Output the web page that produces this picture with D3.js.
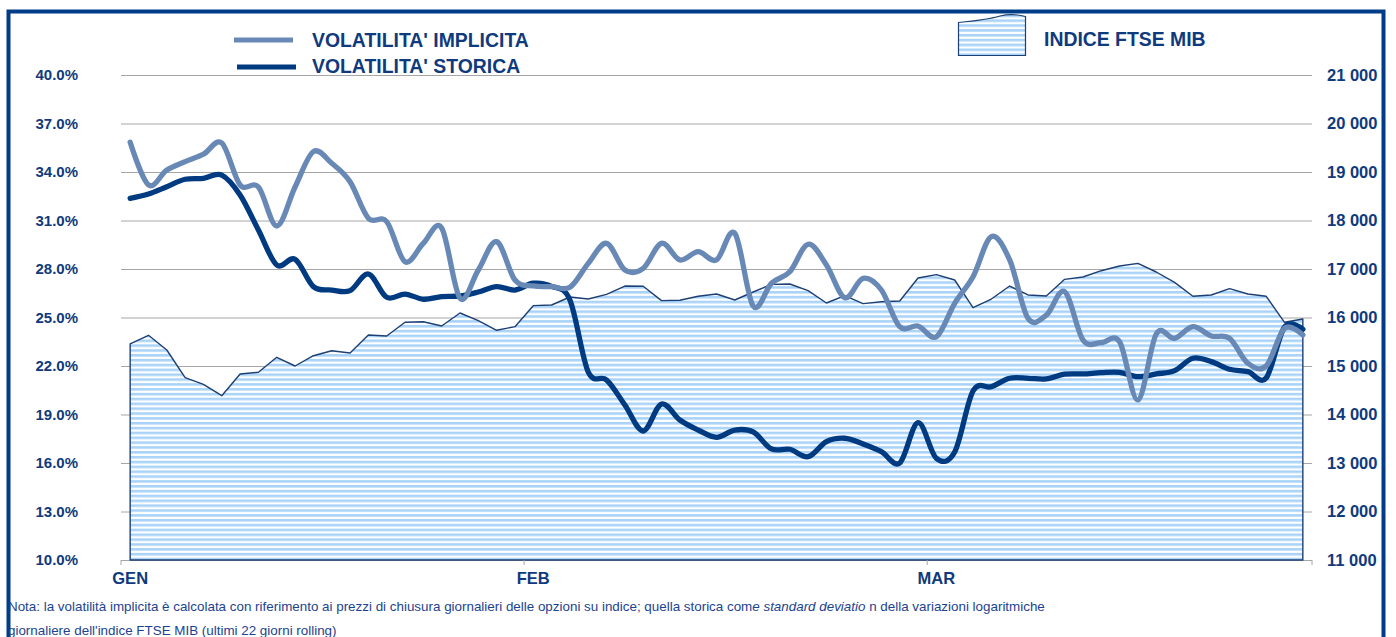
<!DOCTYPE html>
<html>
<head>
<meta charset="utf-8">
<script src="https://cdnjs.cloudflare.com/ajax/libs/d3/7.8.5/d3.min.js"></script>
<style>
  html, body { margin: 0; padding: 0; background: #fff; }
  svg { display: block; font-family: "Liberation Sans", Arial, sans-serif; }
</style>
</head>
<body>
<svg id="chart" width="1396" height="637"></svg>
<script>
'use strict';

// month labels on the category axis (index of the first day of each month)
var months = ['GEN', 'FEB', 'MAR'];
var monthStart = [0, 22, 44];

// tick labels
var volTicks = [10, 13, 16, 19, 22, 25, 28, 31, 34, 37, 40];
var ftseTicks = [11000, 12000, 13000, 14000, 15000, 16000, 17000, 18000, 19000, 20000, 21000];

// implied volatility (%), daily
var volImplicita = [35.84, 33.20, 34.12, 34.64, 35.10, 35.79, 33.20, 33.07, 30.66, 33.07,
  35.26, 34.54, 33.40, 31.14, 30.93, 28.45, 29.59, 30.54, 26.19, 27.94,
  29.69, 27.32, 26.95, 26.91, 26.87, 28.35, 29.59, 27.94, 28.04, 29.59,
  28.56, 29.07, 28.56, 30.21, 25.71, 27.12, 27.83, 29.53, 28.25, 26.22,
  27.42, 26.70, 24.43, 24.47, 23.81, 25.88, 27.52, 30.00, 28.56, 24.95,
  25.15, 26.60, 23.61, 23.44, 23.50, 19.90, 23.98, 23.71, 24.43, 23.86,
  23.71, 22.17, 22.00, 24.33, 23.92];

// historical volatility (%), daily
var volStorica = [32.37, 32.64, 33.09, 33.55, 33.61, 33.81, 32.58, 30.41, 28.25, 28.60,
  26.91, 26.70, 26.66, 27.69, 26.25, 26.45, 26.13, 26.29, 26.33, 26.58,
  26.91, 26.70, 27.12, 26.93, 26.08, 21.63, 21.13, 19.59, 17.98, 19.65,
  18.66, 18.04, 17.59, 18.04, 17.92, 16.87, 16.85, 16.39, 17.32, 17.53,
  17.18, 16.70, 16.00, 18.49, 16.29, 16.68, 20.45, 20.72, 21.24, 21.24,
  21.20, 21.49, 21.51, 21.59, 21.61, 21.34, 21.51, 21.71, 22.48, 22.27,
  21.80, 21.65, 21.26, 24.41, 24.27];

// FTSE MIB index level, daily
var ftseMib = [15454, 15633, 15330, 14759, 14623, 14388, 14835, 14870, 15179, 15000,
  15212, 15315, 15268, 15639, 15619, 15901, 15913, 15825, 16093, 15934,
  15736, 15811, 16244, 16258, 16423, 16381, 16478, 16649, 16643, 16347,
  16355, 16437, 16485, 16361, 16526, 16684, 16691, 16553, 16299, 16450,
  16285, 16326, 16340, 16814, 16883, 16773, 16203, 16381, 16649, 16464,
  16443, 16787, 16835, 16965, 17062, 17117, 16938, 16725, 16437, 16464,
  16594, 16485, 16437, 15901, 15969];

var colImplicita = '#6889b6';
var colStorica = '#003a80';
var colText = '#0f3a7d';
var colFrame = '#003c87';

var svg = d3.select('#chart');

//Frame round the whole chart
svg.append('rect')
  .attr('x', 8.5).attr('y', 11.5)
  .attr('width', 1375).attr('height', 660)
  .attr('fill', 'none')
  .attr('stroke', colFrame)
  .attr('stroke-width', 4);

//Scales
var x = d3.scaleBand().domain(d3.range(ftseMib.length)).range([121, 1312]);
var px = function(i){ return x(i) + x.bandwidth() / 2; };
var yL = d3.scaleLinear().domain([10, 40]).range([560, 75]);
var yR = d3.scaleLinear().domain([11000, 21000]).range([560, 75]);

//Striped fill for the index area
var defs = svg.append('defs');
var pat = defs.append('pattern')
  .attr('id', 'stripes')
  .attr('patternUnits', 'userSpaceOnUse')
  .attr('width', 8).attr('height', 4.85);
pat.append('rect').attr('width', 8).attr('height', 4.85).attr('fill', '#ffffff');
pat.append('rect').attr('y', 0).attr('width', 8).attr('height', 2.6).attr('fill', '#a9d3f8');

//Gridlines
svg.append('g').selectAll('line')
  .data(volTicks)
  .enter().append('line')
  .attr('x1', 121).attr('x2', 1312)
  .attr('y1', function(d){ return yL(d) + 0.5; })
  .attr('y2', function(d){ return yL(d) + 0.5; })
  .attr('stroke', '#a6a6a6')
  .attr('stroke-width', 1);

//FTSE MIB area (right axis)
var area = d3.area()
  .x(function(d, i){ return px(i); })
  .y0(yR(11000))
  .y1(function(d){ return yR(d); });

svg.append('path')
  .datum(ftseMib)
  .attr('d', area)
  .attr('fill', 'url(#stripes)')
  .attr('stroke', '#1d3f74')
  .attr('stroke-width', 1.4)
  .attr('stroke-linejoin', 'round');

//Month tick marks (between categories)
svg.append('g').selectAll('line')
  .data(monthStart.concat([ftseMib.length]))
  .enter().append('line')
  .attr('x1', function(d){ return d < ftseMib.length ? x(d) : 1312; })
  .attr('x2', function(d){ return d < ftseMib.length ? x(d) : 1312; })
  .attr('y1', 560).attr('y2', 565)
  .attr('stroke', '#a6a6a6');

//Volatility lines
var line = d3.line()
  .x(function(d, i){ return px(i); })
  .y(function(d){ return yL(d); })
  .curve(d3.curveCatmullRom.alpha(0));

svg.append('path')
  .datum(volStorica)
  .attr('d', line)
  .attr('fill', 'none')
  .attr('stroke', colStorica)
  .attr('stroke-width', 5.3)
  .attr('stroke-linejoin', 'round')
  .attr('stroke-linecap', 'round');

svg.append('path')
  .datum(volImplicita)
  .attr('d', line)
  .attr('fill', 'none')
  .attr('stroke', colImplicita)
  .attr('stroke-width', 5.3)
  .attr('stroke-linejoin', 'round')
  .attr('stroke-linecap', 'round');

//Axes
var pctFmt = function(d){ return d3.format('.1f')(d) + '%'; };
var spaceFmt = d3.formatLocale({decimal: ',', thousands: ' ', grouping: [3], currency: ['', '']}).format(',');

var axL = svg.append('g')
  .attr('transform', 'translate(121,0)')
  .call(d3.axisLeft(yL).tickValues(volTicks).tickFormat(pctFmt).tickSize(0).tickPadding(43));
var axR = svg.append('g')
  .attr('transform', 'translate(1312,0)')
  .call(d3.axisRight(yR).tickValues(ftseTicks).tickFormat(spaceFmt).tickSize(0).tickPadding(15));
var axB = svg.append('g')
  .attr('transform', 'translate(0,560)')
  .call(d3.axisBottom(x).tickValues(monthStart)
    .tickFormat(function(d){ return months[monthStart.indexOf(d)]; })
    .tickSize(0).tickPadding(12));

[axL, axR, axB].forEach(function(ax){
  ax.select('.domain').remove();
  ax.selectAll('text')
    .attr('fill', colText)
    .style('font-family', '"Liberation Sans", Arial, sans-serif')
    .style('font-weight', 'bold')
    .style('font-size', '15px');
});
axR.selectAll('text').style('font-size', '16.5px');
axB.selectAll('text').style('font-size', '16.5px');

//Legend
var legend = svg.append('g');
legend.append('line')
  .attr('x1', 234).attr('x2', 293).attr('y1', 40).attr('y2', 40)
  .attr('stroke', colImplicita).attr('stroke-width', 5);
legend.append('line')
  .attr('x1', 237).attr('x2', 296).attr('y1', 67).attr('y2', 67)
  .attr('stroke', colStorica).attr('stroke-width', 5);
legend.append('path')
  .attr('d', 'M958.5,22.5 C975,21 990,19 1000,16 C1010,13.5 1020,15 1025.5,16.5 L1025.5,55.5 L958.5,55.5 Z')
  .attr('fill', 'url(#stripes)')
  .attr('stroke', '#1d3f74')
  .attr('stroke-width', 1.2);

var legText = [
  {t: "VOLATILITA' IMPLICITA", x: 312, y: 46.5},
  {t: "VOLATILITA' STORICA", x: 312, y: 72.5},
  {t: 'INDICE FTSE MIB', x: 1044, y: 46}
];
legend.selectAll('text')
  .data(legText)
  .enter().append('text')
  .attr('x', function(d){ return d.x; })
  .attr('y', function(d){ return d.y; })
  .attr('fill', colText)
  .style('font-weight', 'bold')
  .style('font-size', '19.4px')
  .text(function(d){ return d.t; });

//Note under the chart
var note = svg.append('g')
  .attr('fill', '#1c4390')
  .style('font-size', '13.4px');
var n1 = note.append('text').attr('x', 8).attr('y', 611);
n1.append('tspan').text('Nota: la volatilità implicita è calcolata con riferimento ai prezzi di chiusura giornalieri delle opzioni su indice; quella storica com');
n1.append('tspan').style('font-style', 'italic').text('e standard deviatio');
n1.append('tspan').text(' n della variazioni logaritmiche');
note.append('text').attr('x', 8).attr('y', 635)
  .text("giornaliere dell'indice FTSE MIB (ultimi 22 giorni rolling)");
</script>
</body>
</html>
